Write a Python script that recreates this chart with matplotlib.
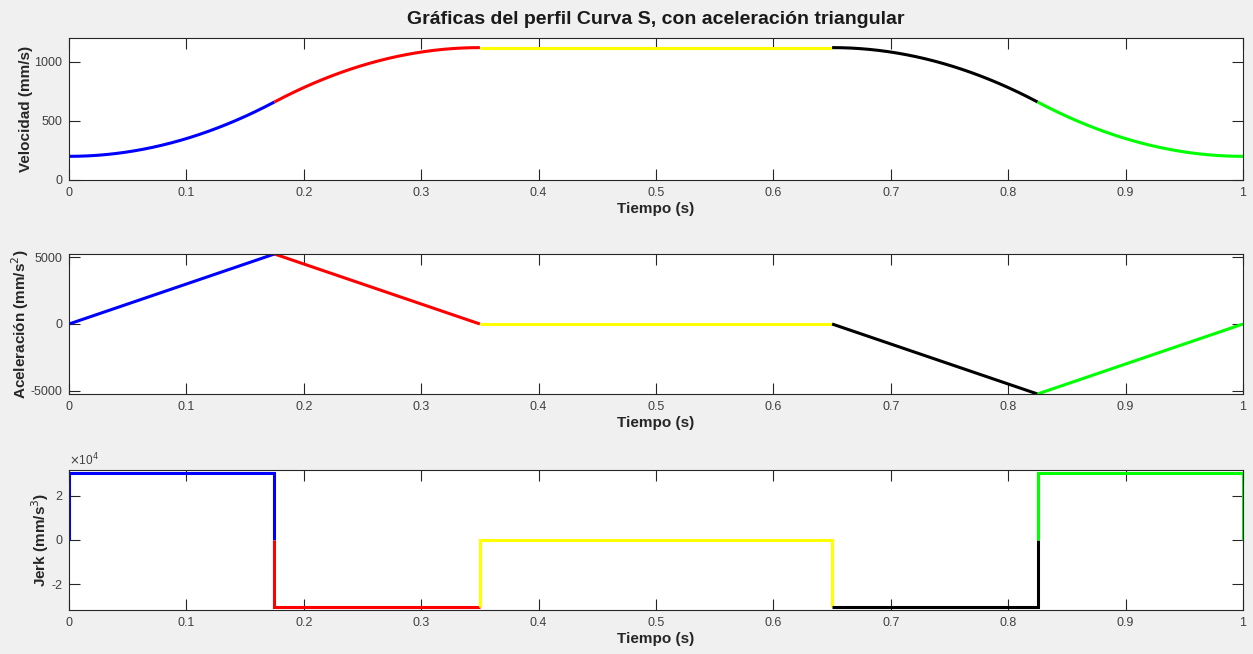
import numpy as np
import matplotlib
matplotlib.use("Agg")
import matplotlib.pyplot as plt

plt.rcParams['font.family'] = ['Liberation Sans', 'DejaVu Sans']
plt.rcParams['axes.unicode_minus'] = False

# ---- data ----
seg_bounds = [0.0, 0.175, 0.35, 0.65, 0.825, 1.0]       # segment limits (s)
seg_jerk = [30000, -30000, 0, -30000, 30000]              # jerk per segment (mm/s^3)
seg_colors = ['#0000FF', '#FF0000', '#FFFF00', '#000000', '#00FF00']
v_start = 200.0                                            # initial velocity (mm/s)
# jerk step outlines per segment (value at start, plateau, value at end)
jerk_start = [0, 0, -30000, -30000, 0]
jerk_end = [0, -30000, -30000, 0, 0]

x_ticks = [0, 0.1, 0.2, 0.3, 0.4, 0.5, 0.6, 0.7, 0.8, 0.9, 1]
x_ticklabels = ['0', '0.1', '0.2', '0.3', '0.4', '0.5', '0.6', '0.7', '0.8', '0.9', '1']
v_ticks = [0, 500, 1000]
a_ticks = [-5000, 0, 5000]
j_ticks = [-20000, 0, 20000]
j_ticklabels = ['-2', '0', '2']

# ---- integrate jerk -> acceleration -> velocity per segment ----
segments = []
a0, v0 = 0.0, v_start
for k in range(len(seg_jerk)):
    t0, t1 = seg_bounds[k], seg_bounds[k + 1]
    tau = np.linspace(0, t1 - t0, 200)
    J = seg_jerk[k]
    a = a0 + J * tau
    v = v0 + a0 * tau + 0.5 * J * tau ** 2
    segments.append((t0 + tau, a, v))
    a0, v0 = a[-1], v[-1]

W, H = 1253, 654
fig = plt.figure(figsize=(W / 100, H / 100), dpi=100, facecolor='#F0F0F0')

def ax_at(l, t, r, b):
    return fig.add_axes([l / W, 1 - b / H, (r - l) / W, (b - t) / H])

axv = ax_at(69, 38, 1243, 180)
axa = ax_at(69, 254, 1243, 394)
axj = ax_at(69, 470, 1243, 610)

lw = 2.2
for k, (t, a, v) in enumerate(segments):
    c = seg_colors[k]
    axv.plot(t, v, color=c, lw=lw, solid_capstyle='butt')
    axa.plot(t, a, color=c, lw=lw, solid_capstyle='butt')
    t0, t1 = seg_bounds[k], seg_bounds[k + 1]
    J = seg_jerk[k]
    axj.plot([t0, t0, t1, t1], [jerk_start[k], J, J, jerk_end[k]],
             color=c, lw=lw, solid_capstyle='butt', solid_joinstyle='miter')

tick_col = '#262626'
lab_kw = dict(fontsize=11, fontweight='bold', color='#262626')
for ax in (axv, axa, axj):
    ax.set_facecolor('white')
    ax.set_xlim(0, 1)
    ax.set_xticks(x_ticks)
    ax.set_xticklabels(x_ticklabels)
    ax.tick_params(direction='in', length=8, width=0.8, top=True, right=True,
                   labelsize=9, colors=tick_col, labelcolor='#404040', pad=5)
    for s in ax.spines.values():
        s.set_color('#262626')
        s.set_linewidth(0.8)
    ax.set_xlabel('Tiempo (s)', labelpad=2, **lab_kw)

def px_x(px):
    return (px - 69) / (1243 - 69)

axv.set_ylim(0, 1200)
axv.set_yticks(v_ticks)
axv.set_ylabel('Velocidad (mm/s)', **lab_kw)
axv.yaxis.set_label_coords(px_x(33), 0.5)

axa.set_ylim(-5250, 5250)
axa.set_yticks(a_ticks)
axa.set_ylabel('Aceleración (mm/s$^2$)', **lab_kw)
axa.yaxis.set_label_coords(px_x(31), 0.5)

axj.set_ylim(-31500, 31500)
axj.set_yticks(j_ticks)
axj.set_yticklabels(j_ticklabels)
axj.set_ylabel('Jerk (mm/s$^3$)', **lab_kw)
axj.yaxis.set_label_coords(px_x(51), 0.5)
axj.text(0.0, 1.015, r'$\times$10$^{4}$', transform=axj.transAxes, fontsize=8.5,
         color='#404040', ha='left', va='bottom')

fig.text(656 / W, 1 - 20 / H, 'Gráficas del perfil Curva S, con aceleración triangular',
         fontsize=14, fontweight='bold', color='#1a1a1a', ha='center', va='center')

fig.savefig('out.png', dpi=100, facecolor=fig.get_facecolor())
